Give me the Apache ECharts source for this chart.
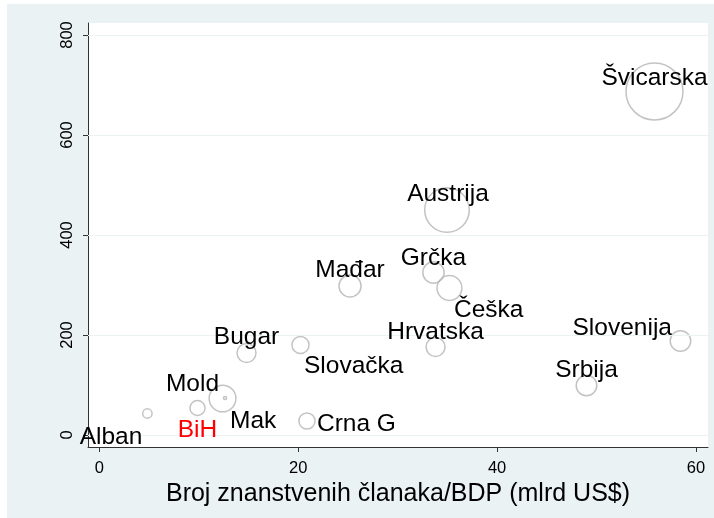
<!DOCTYPE html>
<html>
<head>
<meta charset="utf-8">
<script src="https://cdn.jsdelivr.net/npm/echarts@6/dist/echarts.min.js"></script>
<style>
html, body { margin: 0; padding: 0; background: #fff; }
#main { width: 714px; height: 518px; }
</style>
</head>
<body>
<div id="main"></div>
<script>
// podaci ocitani sa slike
var countries = ['Alban', 'BiH', 'Mold', 'Mak', 'Bugar', 'Slovačka', 'Crna G', 'Mađar',
	'Grčka', 'Hrvatska', 'Češka', 'Austrija', 'Srbija', 'Slovenija', 'Švicarska'];
var articlesPerGdp = [4.83, 9.87, 12.39, 12.64, 14.80, 20.23, 20.88, 25.21,
	33.60, 33.81, 35.21, 34.96, 48.99, 58.44, 55.83];
var yValues = [43, 54, 73, 74, 164, 180, 28, 298,
	325, 176, 294, 450, 99, 188, 687];
var weights = [2.7, 7, 22, 0.3, 11, 9, 8, 15,
	14, 11, 19, 61, 13, 13, 100];
var xTicks = [0, 20, 40, 60];
var yTicks = [0, 200, 400, 600, 800];

// polozaj oznaka (kao mlabposition u Stati)
var labelPlacement = {
	'Alban': ['right', -5, 24],
	'BiH': ['center', 0, 22.5],
	'Mold': ['right', -3.5, -14],
	'Mak': ['left', 5, 23],
	'Bugar': ['center', 0, -15.5],
	'Slovačka': ['left', 3.5, 21.5],
	'Crna G': ['left', 10, 3],
	'Mađar': ['center', 0, -16],
	'Grčka': ['center', 0, -14.5],
	'Hrvatska': ['center', 0, -14.5],
	'Češka': ['left', 4.5, 22.5],
	'Austrija': ['center', 1, -15.5],
	'Srbija': ['center', 0, -15.5],
	'Slovenija': ['right', -8.5, -12.5],
	'Švicarska': ['center', 0, -13.5]
};

var font = 'Liberation Sans, Arial, sans-serif';
var panel = '#eaf2f3';

var bubbles = [];
var labels = [];
for (var i = 0; i < countries.length; i++) {
	bubbles.push({
		name: countries[i],
		value: [articlesPerGdp[i], yValues[i], weights[i]]
	});
	labels.push([articlesPerGdp[i], yValues[i], i]);
}

var myChart = echarts.init(document.getElementById('main'));
var option = {
	backgroundColor: '#fff',
	animation: false,
	graphic: [{
		type: 'rect',
		z: -10,
		silent: true,
		shape: { x: 7, y: 4, width: 707, height: 514 },
		style: { fill: panel }
	}],
	grid: {
		left: 88,
		right: 6,
		top: 23,
		bottom: 71,
		show: true,
		backgroundColor: '#fff',
		borderWidth: 0
	},
	xAxis: {
		type: 'value',
		min: -1.14,
		max: 61.21,
		name: 'Broj znanstvenih članaka/BDP (mlrd US$)',
		nameLocation: 'middle',
		nameGap: 31,
		nameTextStyle: { fontFamily: font, fontSize: 25, color: '#000' },
		axisLine: { onZero: false, lineStyle: { color: '#333', width: 1 } },
		axisTick: { customValues: xTicks, length: 5, lineStyle: { color: '#333' } },
		axisLabel: { customValues: xTicks, margin: 13, fontFamily: font, fontSize: 16.5, color: '#000' },
		splitLine: { show: false }
	},
	yAxis: {
		type: 'value',
		min: -24,
		max: 824,
		axisLine: { show: true, onZero: false, lineStyle: { color: '#333', width: 1 } },
		axisTick: { show: true, customValues: yTicks, length: 5, lineStyle: { color: '#333' } },
		axisLabel: { customValues: yTicks, rotate: 90, margin: 12, fontFamily: font, fontSize: 16.5, color: '#000' },
		splitLine: { show: false }
	},
	series: [{
		type: 'scatter',
		data: bubbles,
		symbol: 'circle',
		symbolSize: function (val) {
			return 57 * Math.sqrt(val[2] / 100);
		},
		itemStyle: {
			color: 'rgba(0,0,0,0)',
			borderColor: '#b4b4b4',
			borderWidth: 1.5
		},
		markLine: {
			silent: true,
			symbol: ['none', 'none'],
			label: { show: false },
			lineStyle: { color: panel, type: 'solid', width: 1.2 },
			data: yTicks.map(function (v) { return { yAxis: v }; })
		}
	}, {
		// oznake drzava
		type: 'custom',
		data: labels,
		silent: true,
		z: 5,
		renderItem: function (params, api) {
			var p = api.coord([api.value(0), api.value(1)]);
			var name = countries[api.value(2)];
			var lp = labelPlacement[name];
			return {
				type: 'text',
				style: {
					text: name,
					x: p[0] + lp[1],
					y: p[1] + lp[2],
					align: lp[0],
					verticalAlign: 'middle',
					fill: name == 'BiH' ? '#ff0000' : '#000000',
					font: '24.5px ' + font
				}
			};
		}
	}]
};
myChart.setOption(option);
</script>
</body>
</html>
